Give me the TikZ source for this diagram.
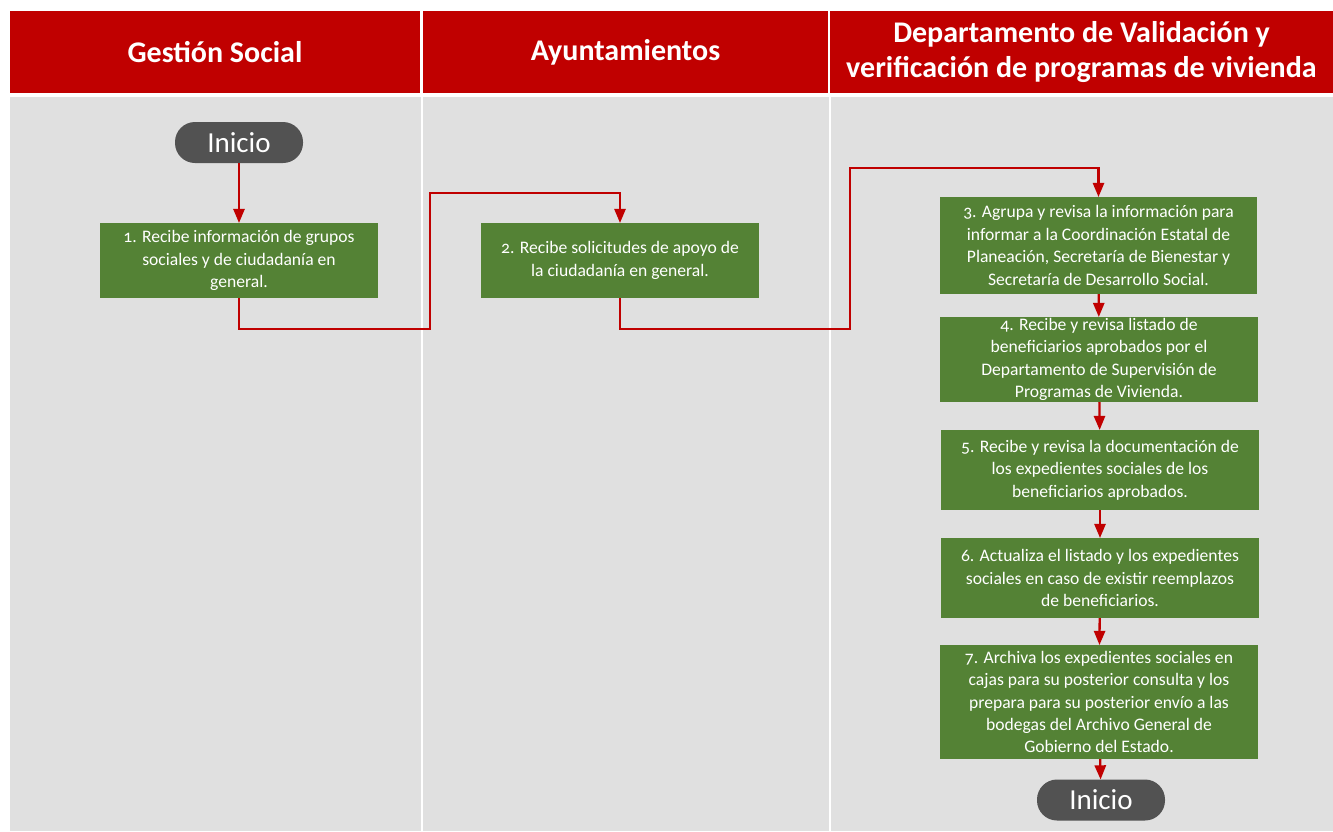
\documentclass[tikz,border=0pt]{standalone}
\usepackage{fontspec}
\setmainfont{Carlito}[Numbers=OldStyle]
\usetikzlibrary{shapes,arrows}
\definecolor{rojo}{HTML}{C00000}
\definecolor{verde}{HTML}{548235}
\definecolor{gris}{HTML}{E0E0E0}
\definecolor{oscuro}{HTML}{525252}
\tikzstyle{every picture}=[x=1pt, y=-1pt, >=triangle 45]
\tikzstyle{cabeza}=[fill=rojo, text=white, font=\fontsize{30}{35}\selectfont\bfseries, align=center]
\tikzstyle{paso}=[fill=verde, text=white, font=\fontsize{17.6}{22.4}\selectfont, align=center, inner sep=0pt]
\tikzstyle{terminal}=[fill=oscuro, text=white, rounded corners=20pt, minimum width=128pt, minimum height=41pt, font=\fontsize{29}{30}\selectfont, inner sep=0pt]
\tikzstyle{flecha}=[draw=rojo, line width=2.3pt, ->]

\begin{document}
\begin{tikzpicture}
	\useasboundingbox (0,0) rectangle (1333,831);
	\fill[white] (0,0) rectangle (1333,831);
	\fill[gris] (10,97) rectangle (1333,831);
	\draw[white, line width=2pt] (421.5,97) -- (421.5,831) (829.5,97) -- (829.5,831);
	\node (G) [cabeza, minimum width=410pt, minimum height=82pt] at (215,52) {Gestión Social};
	\node (A) [cabeza, minimum width=405pt, minimum height=82pt] at (625.5,52) {Ayuntamientos};
	\node (D) [cabeza, minimum width=503pt, minimum height=82pt] at (1081.5,52) {Departamento de Validación y\\verificación de programas de vivienda};

	\node (I1) [terminal] at (239,142.5) {Inicio};
	\node (P1) [paso, minimum width=278pt, minimum height=75pt] at (239,260.5) {1. Recibe información de grupos\\sociales y de ciudadanía en\\general.};
	\node (P2) [paso, minimum width=278pt, minimum height=75pt] at (620,260.5) {2. Recibe solicitudes de apoyo de\\la ciudadanía en general.};
	\node (P3) [paso, minimum width=317pt, minimum height=97pt] at (1098.5,245.5) {3. Agrupa y revisa la información para\\informar a la Coordinación Estatal de\\Planeación, Secretaría de Bienestar y\\Secretaría de Desarrollo Social.};
	\node (P4) [paso, minimum width=318pt, minimum height=85pt] at (1099,359.5) {4. Recibe y revisa listado de\\beneficiarios aprobados por el\\Departamento de Supervisión de\\Programas de Vivienda.};
	\node (P5) [paso, minimum width=318pt, minimum height=80pt] at (1100,470) {5. Recibe y revisa la documentación de\\los expedientes sociales de los\\beneficiarios aprobados.};
	\node (P6) [paso, minimum width=318pt, minimum height=80pt] at (1100,578) {6. Actualiza el listado y los expedientes\\sociales en caso de existir reemplazos\\de beneficiarios.};
	\node (P7) [paso, minimum width=318pt, minimum height=114pt] at (1099,702) {7. Archiva los expedientes sociales en\\cajas para su posterior consulta y los\\prepara para su posterior envío a las\\bodegas del Archivo General de\\Gobierno del Estado.};
	\node (I2) [terminal] at (1101,800) {Inicio};

	\coordinate (c1) at (430,193);
	\coordinate (c2) at (850,168);
	\draw[flecha] (I1) -- (P1);
	\draw[flecha] (P1.south) -- ++(0,31) -| (c1) -| (P2.north);
	\draw[flecha] (P2.south) -- ++(0,31) -| (c2) -| (P3.north);
	\draw[flecha] (P3) -- (P4);
	\draw[flecha] (P4) -- (P5);
	\draw[flecha] (P5) -- (P6);
	\draw[flecha] (P6) -- (P7);
	\draw[flecha] (P7) -- (I2);
\end{tikzpicture}
\end{document}
